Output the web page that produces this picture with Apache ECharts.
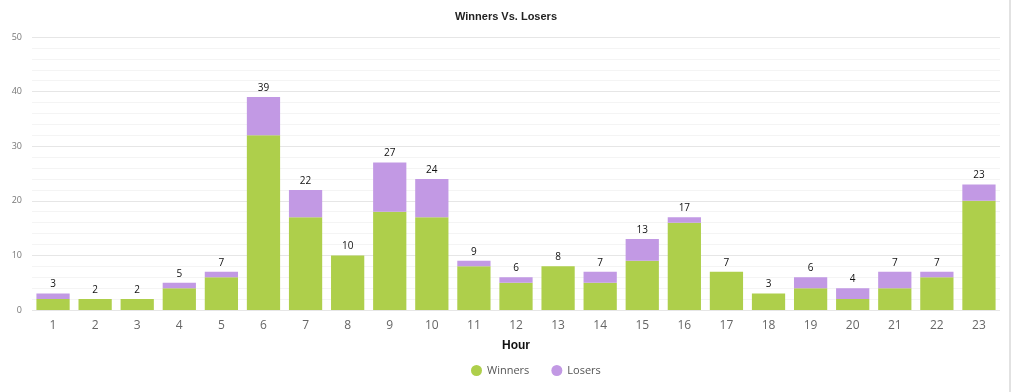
<!DOCTYPE html>
<html><head><meta charset="utf-8">
<script src="https://cdn.jsdelivr.net/npm/echarts@6/dist/echarts.min.js"></script>
<style>html,body{margin:0;padding:0;background:#fff}#c{width:1012px;height:392px}</style>
</head><body><div id="c"></div>
<script>
const hours = ['1','2','3','4','5','6','7','8','9','10','11','12','13','14','15','16','17','18','19','20','21','22','23'];
const winners = [2,2,2,4,6,32,17,10,18,17,8,5,8,5,9,16,7,3,4,2,4,6,20];
const losers  = [1,0,0,1,1,7,5,0,9,7,1,1,0,2,4,1,0,0,2,2,3,1,3];
const totals = winners.map((w,i)=>w+losers[i]);

const chart = echarts.init(document.getElementById('c'), null, {renderer:'canvas'});
chart.setOption({
  animation:false,
  title:{text:'Winners Vs. Losers', left:'center', top:6, textStyle:{fontSize:11, fontWeight:'bold', color:'#222', fontFamily:'Arial, Liberation Sans, sans-serif'}},
  grid:{left:32, right:12, top:37, bottom:82},
  legend:{top:360, left:466, icon:'circle', itemWidth:11, itemHeight:11, itemGap:22,
    textStyle:{fontSize:11, color:'#555', fontFamily:'Open Sans, sans-serif'}, data:['Winners','Losers']},
  graphic:[{type:'rect', shape:{x:1009, y:0, width:2, height:392}, style:{fill:'#e2e2e2'}}],
  xAxis:{type:'category', data:hours, name:'Hour', nameLocation:'middle', nameGap:30,
    nameTextStyle:{fontSize:12, fontWeight:'bold', color:'#111', fontFamily:'Arial, Liberation Sans, sans-serif'},
    axisLine:{show:false}, axisTick:{show:false},
    axisLabel:{fontSize:12, color:'#666', margin:10, fontFamily:'Open Sans, sans-serif'}},
  yAxis:{type:'value', min:0, max:50, interval:10,
    axisLabel:{fontSize:9, color:'#777', margin:10, fontFamily:'Open Sans, sans-serif'},
    axisLine:{show:false}, axisTick:{show:false},
    splitLine:{lineStyle:{color:'#e6e6e6', width:1}},
    minorTick:{show:false, splitNumber:5},
    minorSplitLine:{show:true, lineStyle:{color:'#f4f4f4', width:1}}},
  series:[
    {name:'Winners', type:'bar', stack:'t', data:winners, barWidth:'79%',
      itemStyle:{color:'#aecf4b'}},
    {name:'Losers', type:'bar', stack:'t', data:losers, barWidth:'79%',
      itemStyle:{color:'#c299e4'}},
    {name:'Total', type:'bar', data:totals, barWidth:'79%', barGap:'-100%', z:1,
      itemStyle:{color:'rgba(0,0,0,0)'}, silent:true,
      label:{show:true, position:'top', distance:4, fontSize:10, color:'#111', fontFamily:'Open Sans, sans-serif'}}
  ]
});
</script></body></html>
